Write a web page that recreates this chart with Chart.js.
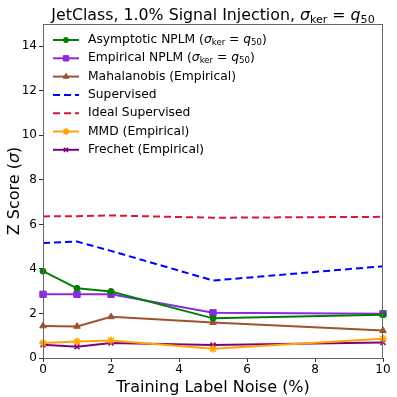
<!DOCTYPE html>
<html>
<head>
<meta charset="utf-8">
<script src="https://cdn.jsdelivr.net/npm/chart.js@4"></script>
<style>
  html, body { margin: 0; padding: 0; background: #fff; }
  #wrap { width: 397px; height: 397px; }
</style>
</head>
<body>
<div id="wrap"><canvas id="chart" width="397" height="397"></canvas></div>
<script>
// --- data ---
const noiseLevels = [0, 1, 2, 5, 10];
const asymptoticNplm = [3.90, 3.13, 2.99, 1.78, 1.94];
const empiricalNplm = [2.86, 2.86, 2.86, 2.03, 1.99];
const mahalanobis = [1.44, 1.42, 1.85, 1.59, 1.23];
const supervised = [5.16, 5.23, 4.81, 3.48, 4.12];
const idealSupervised = [6.36, 6.37, 6.40, 6.30, 6.34];
const mmd = [0.67, 0.74, 0.79, 0.41, 0.87];
const frechet = [0.59, 0.50, 0.67, 0.58, 0.70];
const yTicks = [0, 2, 4, 6, 8, 10, 12, 14];
const xTicks = [0, 2, 4, 6, 8, 10];

const FONT = '"DejaVu Sans", sans-serif';

// legend label pieces (plain, italic and subscript parts)
const sigmaLabel = [{ t: ' (' }, { t: 'σ', it: true }, { t: 'ker', sub: true }, { t: ' = ' }, { t: 'q', it: true }, { t: '50', sub: true }, { t: ')' }];

function points(ys) {
    return noiseLevels.map((x, i) => ({ x: x, y: ys[i] }));
}

function series(parts, ys, color, marker, size, dashed) {
    return {
        label: parts.map(p => p.t).join(''),
        parts: parts,
        data: points(ys),
        borderColor: color,
        backgroundColor: color,
        borderWidth: 2,
        borderDash: dashed ? [7, 4] : [],
        pointStyle: marker || false,
        pointRadius: marker ? size : 0,
        pointBorderWidth: marker === 'crossRot' || marker === 'star' ? 1.5 : 1,
        tension: 0,
        clip: false
    };
}

const datasets = [
    series([{ t: 'Asymptotic NPLM' }].concat(sigmaLabel), asymptoticNplm, '#008000', 'circle', 3),
    series([{ t: 'Empirical NPLM' }].concat(sigmaLabel), empiricalNplm, '#8a2be2', 'rect', 4.5),
    series([{ t: 'Mahalanobis (Empirical)' }], mahalanobis, '#a0522d', 'triangle', 3.8),
    series([{ t: 'Supervised' }], supervised, '#0000ff', null, 0, true),
    series([{ t: 'Ideal Supervised' }], idealSupervised, '#dc143c', null, 0, true),
    series([{ t: 'MMD (Empirical)' }], mmd, '#ffa500', 'star', 4),
    series([{ t: 'Frechet (Empirical)' }], frechet, '#800080', 'crossRot', 3.5)
];

// draw a string made of plain / italic / subscript parts
function drawRich(ctx, parts, x, y, size) {
    let cx = x;
    parts.forEach(p => {
        const s = p.sub ? size * 0.7 : size;
        ctx.font = (p.it ? 'italic ' : '') + s + 'px ' + FONT;
        ctx.fillText(p.t, cx, p.sub ? y + size * 0.22 : y);
        cx += ctx.measureText(p.t).width;
    });
    return cx - x;
}
function richWidth(ctx, parts, size) {
    let w = 0;
    parts.forEach(p => {
        const s = p.sub ? size * 0.7 : size;
        ctx.font = (p.it ? 'italic ' : '') + s + 'px ' + FONT;
        w += ctx.measureText(p.t).width;
    });
    return w;
}

const decorPlugin = {
    id: 'decor',
    afterDraw(chart) {
        const ctx = chart.ctx;
        const a = chart.chartArea;
        ctx.save();
        // frame
        ctx.strokeStyle = '#666';
        ctx.lineWidth = 1;
        ctx.strokeRect(a.left + 0.5, a.top + 0.5, a.right - a.left - 1, a.bottom - a.top);

        // title
        ctx.fillStyle = '#000';
        ctx.textBaseline = 'alphabetic';
        const titleParts = [{ t: 'JetClass, 1.0% Signal Injection, ' }, { t: 'σ', it: true }, { t: 'ker', sub: true }, { t: ' = ' }, { t: 'q', it: true }, { t: '50', sub: true }];
        const tw = richWidth(ctx, titleParts, 15.8);
        drawRich(ctx, titleParts, (a.left + a.right) / 2 - tw / 2, 20, 15.8);

        // y axis title with italic sigma
        const yParts = [{ t: 'Z Score (' }, { t: 'σ', it: true }, { t: ')' }];
        ctx.save();
        ctx.translate(15, (a.top + a.bottom) / 2);
        ctx.rotate(-Math.PI / 2);
        ctx.textBaseline = 'middle';
        const yw = richWidth(ctx, yParts, 16);
        drawRich(ctx, yParts, -yw / 2, 0, 16);
        ctx.restore();

        // legend
        const lx = a.left + 10;
        let ly = a.top + 16;
        chart.data.datasets.forEach(ds => {
            ctx.save();
            ctx.strokeStyle = ds.borderColor;
            ctx.fillStyle = ds.backgroundColor;
            ctx.lineWidth = ds.borderWidth;
            ctx.setLineDash(ds.borderDash);
            ctx.beginPath();
            ctx.moveTo(lx, ly);
            ctx.lineTo(lx + 26, ly);
            ctx.stroke();
            ctx.setLineDash([]);
            if (ds.pointStyle) {
                ctx.lineWidth = ds.pointBorderWidth;
                Chart.helpers.drawPoint(ctx, {
                    pointStyle: ds.pointStyle,
                    radius: ds.pointRadius * 0.85,
                    borderWidth: ds.pointBorderWidth
                }, lx + 13, ly);
            }
            ctx.restore();
            ctx.fillStyle = '#000';
            ctx.textBaseline = 'middle';
            drawRich(ctx, ds.parts, lx + 35, ly, 12.3);
            ly += 18.3;
        });
        ctx.restore();
    }
};

new Chart(document.getElementById('chart'), {
    type: 'line',
    data: { datasets: datasets },
    plugins: [decorPlugin],
    options: {
        responsive: false,
        animation: false,
        devicePixelRatio: 1,
        layout: { padding: { top: 24, right: 14, left: 0, bottom: 0 } },
        plugins: { legend: { display: false }, title: { display: false }, tooltip: { enabled: false } },
        scales: {
            x: {
                type: 'linear',
                min: 0,
                max: 10,
                afterFit(s) { s.height = 39; },
                afterBuildTicks(s) { s.ticks = xTicks.map(v => ({ value: v })); },
                grid: { display: true, drawOnChartArea: false, drawTicks: true, tickLength: 4, color: '#333' },
                border: { display: false },
                ticks: { color: '#000', font: { family: FONT, size: 12 }, padding: 1, maxRotation: 0 },
                title: { display: true, text: 'Training Label Noise (%)', color: '#000', font: { family: FONT, size: 16 }, padding: { top: 0, bottom: 0 } }
            },
            y: {
                min: 0,
                max: 15,
                afterFit(s) { s.width = 43; },
                afterBuildTicks(s) { s.ticks = yTicks.map(v => ({ value: v })); },
                grid: { display: true, drawOnChartArea: false, drawTicks: true, tickLength: 4, color: '#333' },
                border: { display: false },
                ticks: { color: '#000', font: { family: FONT, size: 12 }, padding: 2 },
                title: { display: false }
            }
        }
    }
});
</script>
</body>
</html>
